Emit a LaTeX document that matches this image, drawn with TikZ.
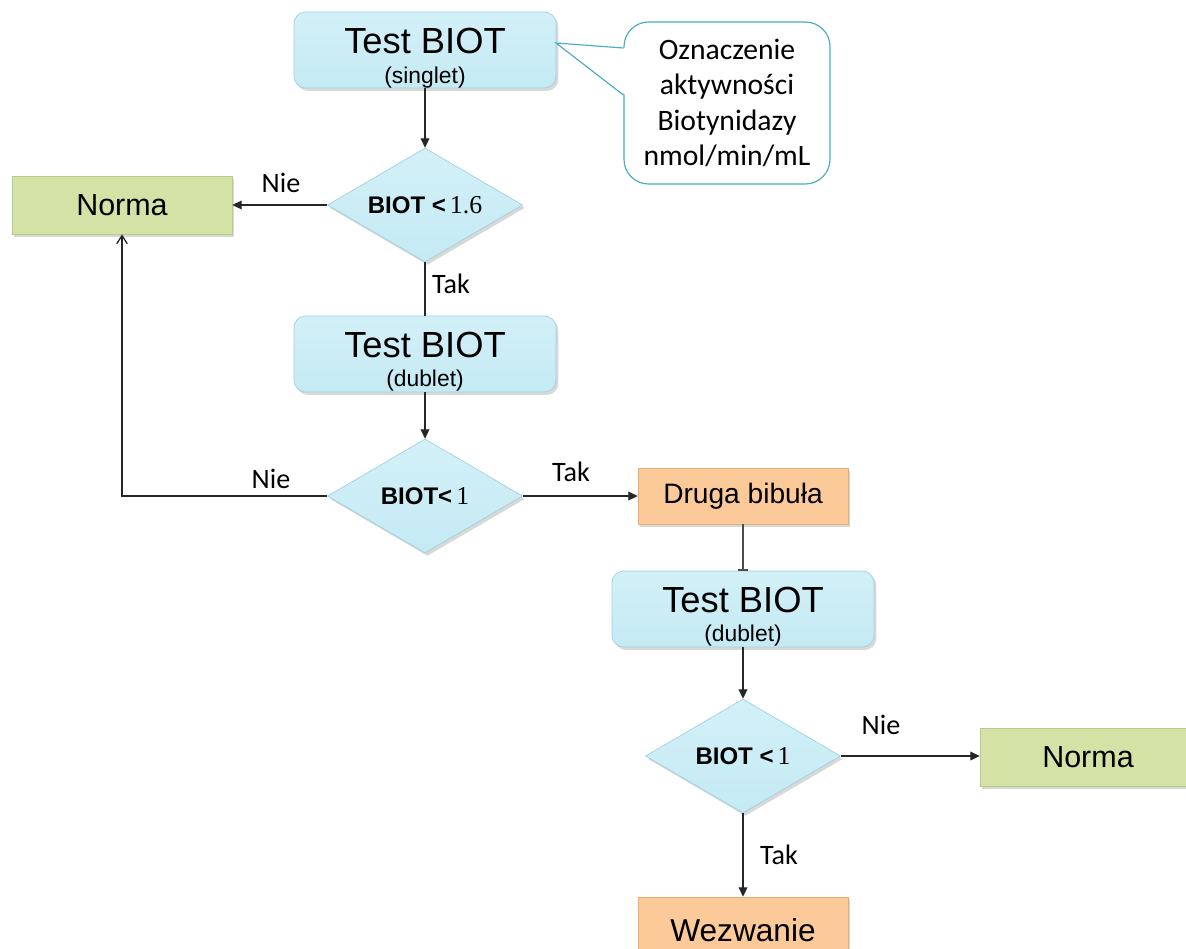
\documentclass[tikz,border=0pt]{standalone}
\usepackage{fontspec}
\setmainfont{Liberation Sans}
\newfontfamily\calfont{Carlito}
\newfontfamily\serfont{Liberation Serif}
\usetikzlibrary{shapes.geometric,arrows.meta,shadows,calc}
\newcommand\pxu{0.03cm}
\definecolor{bluefill}{HTML}{C4EAF4}
\definecolor{bluetop}{HTML}{D3F0F8}
\definecolor{blueedge}{HTML}{9FD2E0}
\definecolor{greenfill}{HTML}{D4E3A5}
\definecolor{greenedge}{HTML}{B7CC82}
\definecolor{orangefill}{HTML}{FCCA98}
\definecolor{orangeedge}{HTML}{E3AD78}
\definecolor{calloutedge}{HTML}{4BACC6}
\tikzset{
  shad/.style={drop shadow={opacity=0.3, shadow xshift=2pt, shadow yshift=-2.5pt}},
  bluebox/.style={shad, rectangle, rounded corners=10pt, top color=bluetop, bottom color=bluefill, draw=blueedge, line width=0.6pt, minimum width=262*\pxu, minimum height=76*\pxu, inner sep=0},
  greenbox/.style={shad, rectangle, fill=greenfill, draw=greenedge, line width=0.6pt, minimum width=220*\pxu, minimum height=58*\pxu, inner sep=0, font=\fontsize{26}{26}\selectfont},
  orangebox/.style={shad, rectangle, fill=orangefill, draw=orangeedge, line width=0.6pt, minimum width=210*\pxu, minimum height=56*\pxu, inner sep=0},
  decision/.style={shad, diamond, shape aspect=1.71, top color=bluetop, bottom color=bluefill, draw=blueedge, line width=0.6pt, minimum width=195*\pxu, minimum height=114*\pxu, inner sep=0, font=\bfseries\fontsize{20.5}{20.5}\selectfont},
  bigt/.style={inner sep=0, anchor=base, font=\fontsize{31}{31}\selectfont},
  smallt/.style={inner sep=0, anchor=base, font=\fontsize{19.5}{19.5}\selectfont},
  lbl/.style={inner sep=0, font=\calfont\fontsize{24}{24}\selectfont},
  numt/.style={},
  conn/.style={line width=1.1pt, draw=black!85},
  arr/.style={conn, -{Triangle[length=8pt,width=7.5pt]}},
  openarr/.style={conn, -{Straight Barb[length=7pt,width=9pt]}},
  barend/.style={conn, draw=black!70, -{Bar[width=8pt]}},
  notebox/.style={rectangle, rounded corners=21pt, draw=calloutedge, fill=white, line width=1pt, minimum width=206*\pxu, minimum height=162*\pxu, align=center, font=\calfont\fontsize{25.3}{30}\selectfont},
}
\newcommand\numf{\serfont\mdseries\fontsize{22}{22}\selectfont}
\begin{document}
\begin{tikzpicture}[x=0.03cm,y=-0.03cm]
\useasboundingbox (0,0) rectangle (1186,948);
\clip (0,0) rectangle (1186,948);
\fill[white] (0,0) rectangle (1186,948);

% first test
\node[bluebox] (b1) at (425,50) {};
\node[bigt] (b1t) at (425,53) {Test BIOT};
\node[smallt] (b1s) at (425,83) {(singlet)};

% callout
\node[notebox] (note) at (727,103) {Oznaczenie\\aktywności\\Biotynidazy\\nmol/min/mL};
\coordinate (tip) at (556,43);
\fill[white] (tip) -- ($(note.west)+(2,-55)$) -- ($(note.west)+(2,-8)$) -- cycle;
\draw[calloutedge, line width=1pt] ($(note.west)+(0,-55)$) -- (tip) -- ($(note.west)+(0,-8)$);

% decision 1
\node[decision] (d1) at (425,205) {BIOT <\,{\numf 1.6}};
\node[greenbox] (n1) at (122,205) {Norma};

% second test
\node[bluebox] (b2) at (425,354) {};
\node[bigt] (b2t) at (425,357) {Test BIOT};
\node[smallt] (b2s) at (425,386) {(dublet)};

% decision 2
\node[decision] (d2) at (425,496) {BIOT<\,{\numf 1}};
\node[orangebox, font=\fontsize{24}{24}\selectfont] (dr) at (743,496) {Druga bibuła};

% third test
\node[bluebox] (b3) at (743,609) {};
\node[bigt] (b3t) at (743,612) {Test BIOT};
\node[smallt] (b3s) at (743,641) {(dublet)};

% decision 3
\node[decision] (d3) at (743,756) {BIOT <\,{\numf 1}};
\node[greenbox, minimum width=216*\pxu] (n2) at (1088,757) {Norma};
\node[orangebox, minimum height=58*\pxu] (wz) at (743,926) {};
\node[inner sep=0, font=\fontsize{27}{27}\selectfont] (wzt) at (743,930) {Wezwanie};

% connectors
\draw[arr] (b1) -- (d1);
\draw[arr] (d1) -- (n1);
\draw[conn] (d1) -- (b2);
\draw[arr] (b2) -- (d2);
\draw[openarr] (d2.west) -| (n1.south);
\draw[arr] (d2) -- (dr);
\draw[barend] (dr) -- (b3);
\draw[arr] (b3) -- (d3);
\draw[arr] (d3.east) -- (d3.east -| n2.west);
\draw[arr] (d3) -- (wz);

% labels
\node[lbl] (l1) at (281,183) {Nie};
\node[lbl] (l2) at (451,284) {Tak};
\node[lbl] (l3) at (271,479) {Nie};
\node[lbl] (l4) at (571,472) {Tak};
\node[lbl] (l5) at (881,725) {Nie};
\node[lbl] (l6) at (779,855) {Tak};
\end{tikzpicture}
\end{document}
